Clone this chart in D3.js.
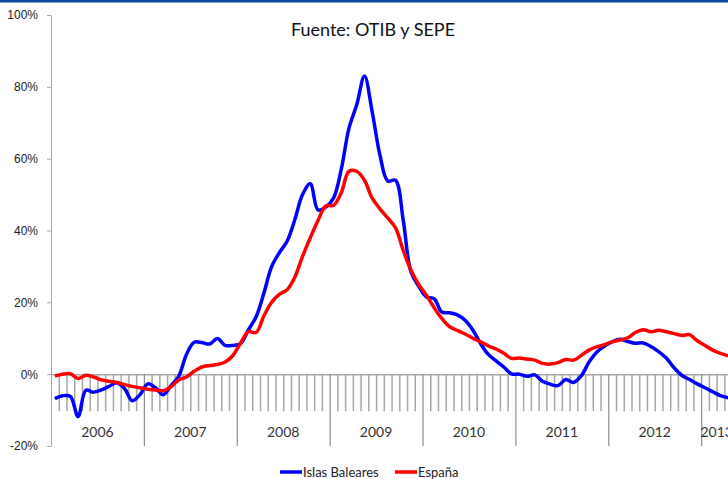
<!DOCTYPE html>
<html>
<head>
<meta charset="utf-8">
<script src="https://cdn.jsdelivr.net/npm/d3@7"></script>
<style>
  body { margin: 0; background: #fff; }
  svg { display: block; }
</style>
</head>
<body>
<svg id="chart" width="728" height="479"></svg>
<script>
// monthly series, Jan 2006 .. Apr 2013 (% year-on-year)
const years = ["2006", "2007", "2008", "2009", "2010", "2011", "2012", "2013"];
const yTicks = [-20, 0, 20, 40, 60, 80, 100];
const seriesNames = ["Islas Baleares", "España"];

const baleares = [
  -6.8, -6.0, -6.2, -11.8, -4.5, -5.0, -4.4, -3.4, -2.4, -4.0, -7.4, -5.7,
  -2.7, -3.8, -5.7, -3.2, -0.6, 5.5, 8.9, 8.8, 8.4, 9.9, 8.0, 8.0,
  8.5, 12.3, 16.0, 22.5, 29.9, 33.8, 37.0, 43.0, 50.0, 53.0, 45.7, 46.5,
  49.0, 57.0, 68.5, 75.0, 83.0, 73.0, 61.0, 53.8, 54.0, 43.0, 28.5, 24.5,
  21.5, 21.0, 17.3, 17.1, 16.5, 15.0, 12.3, 8.5, 5.5, 3.7, 2.0, 0.1,
  0.0, -0.6, -0.2, -2.0, -2.8, -3.2, -1.5, -2.3, -0.5, 3.3, 6.1, 7.8,
  9.0, 9.7, 9.1, 8.6, 8.7, 7.7, 6.3, 4.5, 1.8, -0.3, -1.5, -2.7,
  -3.8, -4.9, -6.0, -6.6
];
const espana = [
  -0.5, 0.0, 0.1, -1.2, -0.3, -0.8, -1.6, -2.0, -2.3, -2.9, -3.4, -3.8,
  -4.2, -4.4, -4.6, -3.5, -1.6, -0.8, 0.8, 2.0, 2.4, 2.7, 3.4, 5.2,
  8.7, 11.8, 11.6, 16.2, 20.0, 22.2, 23.5, 27.0, 32.8, 38.0, 42.8, 46.8,
  47.0, 50.5, 56.5, 56.5, 54.0, 49.0, 46.0, 43.5, 40.8, 34.5, 29.0, 25.0,
  22.0, 18.5, 15.5, 13.2, 12.2, 11.2, 10.0, 9.0, 7.9, 7.0, 5.8, 4.4,
  4.5, 4.2, 3.9, 3.0, 2.8, 3.2, 4.1, 3.9, 5.2, 6.7, 7.6, 8.2,
  9.0, 9.5, 10.1, 11.6, 12.4, 11.8, 12.2, 11.8, 11.3, 10.8, 11.0, 9.3,
  8.0, 6.7, 5.8, 5.1
];

const svg = d3.select('#chart');
const width = +svg.attr('width');
const margin = { left: 51, top: 15, bottom: 446 };
const monthW = 7.74;
const axisColor = '#a6a6a6';

// header bar
svg.append('rect').attr('x', 0).attr('y', 0).attr('width', width).attr('height', 2.5)
   .attr('fill', '#0b4a9e');

// scales
const nMonths = years.length * 12;
const x = d3.scaleLinear().domain([0, nMonths]).range([margin.left, margin.left + nMonths * monthW]);
const y = d3.scaleLinear().domain([-20, 100]).range([margin.bottom, margin.top]);

// y axis
const yAxis = svg.append('g').attr('transform', `translate(${margin.left},0)`)
  .call(d3.axisLeft(y).tickValues(yTicks).tickSize(4).tickSizeOuter(0).tickPadding(9)
        .tickFormat(d => d + '%'));
yAxis.select('.domain').attr('stroke', axisColor);
yAxis.selectAll('.tick line').attr('stroke', axisColor);
yAxis.selectAll('text').attr('font-family', 'Liberation Sans, Arial, sans-serif')
     .attr('font-size', 12).attr('fill', '#222');

// x axis: monthly short ticks, year long ticks
const monthTicks = d3.range(1, nMonths).filter(m => m % 12 !== 0);
const yearTicks = d3.range(12, nMonths, 12);

const xMonth = svg.append('g').attr('transform', `translate(0,${y(0)})`)
  .call(d3.axisBottom(x).tickValues(monthTicks).tickSize(37).tickSizeOuter(0).tickFormat(''));
xMonth.select('.domain').attr('stroke', axisColor).attr('stroke-width', 1.5);
xMonth.selectAll('.tick line').attr('stroke', axisColor).attr('stroke-width', 1.5);

const xYear = svg.append('g').attr('transform', `translate(0,${y(0)})`)
  .call(d3.axisBottom(x).tickValues(yearTicks).tickSize(y(-20) - y(0)).tickFormat(''));
xYear.select('.domain').remove();
xYear.selectAll('.tick line').attr('stroke', '#8c8c8c').attr('stroke-width', 1.2);

// year labels centred over the months present in that year
const lastMonth = baleares.length;
svg.append('g').selectAll('text').data(years).join('text')
  .attr('x', (d, i) => {
    const start = i * 12, end = Math.min(start + 12, lastMonth);
    return x((start + end) / 2);
  })
  .attr('y', 437)
  .attr('text-anchor', 'middle')
  .attr('font-family', 'Lato, sans-serif')
  .attr('font-size', 14)
  .attr('fill', '#333')
  .text(d => d);

// lines
const line = d3.line()
  .x((d, i) => x(i + 0.5))
  .y(d => y(d))
  .curve(d3.curveCatmullRom.alpha(0.5));

const colors = ['#0000ff', '#ff0000'];
[baleares, espana].forEach((s, k) => {
  svg.append('path').datum(s)
    .attr('d', line)
    .attr('fill', 'none')
    .attr('stroke', colors[k])
    .attr('stroke-width', 3.5)
    .attr('stroke-linejoin', 'round');
});

// title
svg.append('text')
  .attr('x', 373).attr('y', 36)
  .attr('text-anchor', 'middle')
  .attr('font-family', 'Lato, sans-serif')
  .attr('font-size', 18)
  .attr('fill', '#111')
  .text('Fuente: OTIB y SEPE');

// legend
const legendX = [280, 395];
const legend = svg.append('g');
seriesNames.forEach((name, k) => {
  legend.append('line')
    .attr('x1', legendX[k]).attr('x2', legendX[k] + 22)
    .attr('y1', 472).attr('y2', 472)
    .attr('stroke', colors[k]).attr('stroke-width', 3.5);
  legend.append('text')
    .attr('x', legendX[k] + 23).attr('y', 477)
    .attr('font-family', 'Lato, sans-serif')
    .attr('font-size', 13)
    .attr('fill', '#222')
    .text(name);
});
</script>
</body>
</html>
